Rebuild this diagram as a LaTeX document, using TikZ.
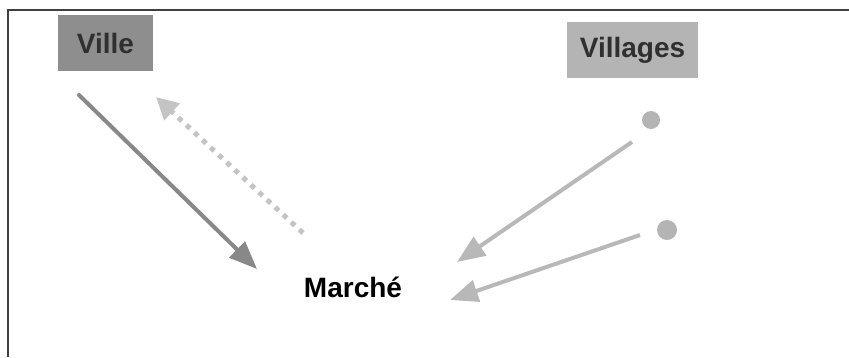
\documentclass[tikz,border=0pt]{standalone}
\usepackage{fontspec}
\setmainfont{Liberation Sans}
\usetikzlibrary{arrows.meta}
\definecolor{villefill}{HTML}{8E8E8E}
\definecolor{villagefill}{HTML}{B4B4B4}
\definecolor{labeltext}{HTML}{303030}
\definecolor{cityflow}{HTML}{888888}
\definecolor{backflow}{HTML}{C4C4C4}
\definecolor{villageflow}{HTML}{B8B8B8}
\tikzset{
  x=1pt, y=-1pt,
  place/.style={fill=#1, inner sep=0pt, text=labeltext,
    font=\fontsize{28}{30}\selectfont\bfseries},
  hamlet/.style={circle, fill=villagefill, inner sep=0pt, minimum size=18pt},
  flow/.style={line width=4pt, draw=#1,
    -{Triangle[length=28pt, width=22pt]}},
  backarrow/.style={line width=5pt, draw=backflow, dash pattern=on 5pt off 6pt,
    -{Triangle[length=22pt, width=22pt]}},
}
\begin{document}
\begin{tikzpicture}
  \useasboundingbox (0,0) rectangle (849,357);
  % frame: top and left edges only
  \draw[line width=1.6pt, black!75] (849,10) -- (8,10) -- (8,357);

  % labels
  \node[place=villefill, minimum width=95pt, minimum height=56pt] (ville) at (105.5,43) {Ville};
  \node[place=villagefill, minimum width=131pt, minimum height=56pt] (villages) at (632.5,50) {Villages};
  \node[font=\fontsize{28}{30}\selectfont\bfseries, inner sep=0pt] (marche) at (353,287) {Marché};

  % village dots
  \node[hamlet] (v1) at (651,120) {};
  \node[hamlet, minimum size=20pt] (v2) at (667,230) {};

  % arrow end points
  \coordinate (cityStart) at (79,95);
  \coordinate (cityEnd) at (257,269);
  \coordinate (backStart) at (303,233);
  \coordinate (backEnd) at (156,97);
  \coordinate (v1Start) at (632,142);
  \coordinate (v1End) at (457,262);
  \coordinate (v2Start) at (640,235);
  \coordinate (v2End) at (450,300);

  % flows
  \draw[flow=cityflow, line cap=round] (cityStart) -- (cityEnd);
  \draw[backarrow] (backStart) -- (backEnd);
  \draw[flow=villageflow] (v1Start) -- (v1End);
  \draw[flow=villageflow] (v2Start) -- (v2End);
\end{tikzpicture}
\end{document}
